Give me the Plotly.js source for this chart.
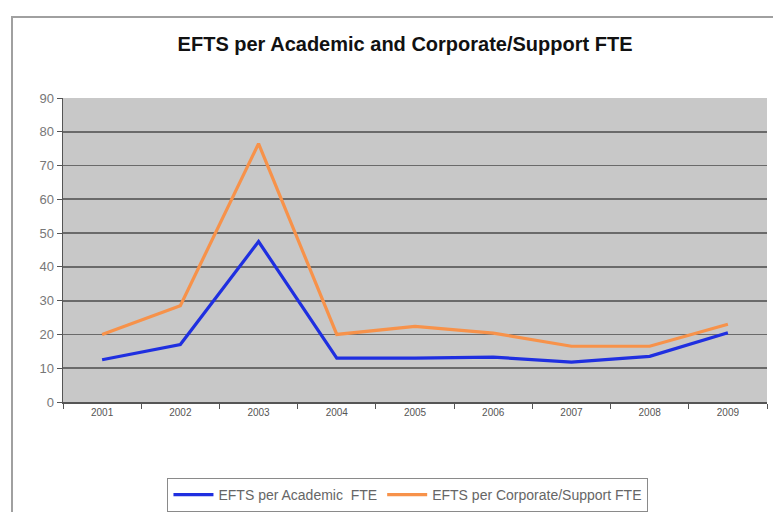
<!DOCTYPE html>
<html>
<head>
<meta charset="utf-8">
<script src="https://cdn.plot.ly/plotly-3.0.1.min.js"></script>
<style>
html,body{margin:0;padding:0;background:#fff;overflow:hidden;}
#wrap{position:relative;width:773px;height:512px;}
#chart{position:absolute;left:0;top:0;width:773px;height:512px;}
#frame{position:absolute;left:11px;top:16px;width:800px;height:520px;border:2px solid #a0a0a0;pointer-events:none;box-sizing:border-box;}
</style>
</head>
<body>
<div id="wrap"><div id="chart"></div><div id="frame"></div></div>
<script>
const years = ['2001','2002','2003','2004','2005','2006','2007','2008','2009'];
const academicFTE = [12.5, 17, 47.5, 13, 13, 13.3, 11.8, 13.5, 20.5];
const corporateFTE = [20, 28.5, 76.5, 20, 22.4, 20.4, 16.5, 16.5, 23];
const yTicks = [0,10,20,30,40,50,60,70,80,90];
const seriesNames = ['EFTS per Academic  FTE', 'EFTS per Corporate/Support FTE'];

const traces = [
  {x: years, y: academicFTE, name: seriesNames[0], type: 'scatter', mode: 'lines',
   line: {color: '#1f2fe0', width: 3.2}},
  {x: years, y: corporateFTE, name: seriesNames[1], type: 'scatter', mode: 'lines',
   line: {color: '#f7924a', width: 3.2}}
];

const layout = {
  width: 773, height: 512,
  margin: {l: 63, r: 6, t: 98, b: 110, autoexpand: false},
  paper_bgcolor: '#ffffff',
  plot_bgcolor: '#c8c8c8',
  font: {family: 'Liberation Sans, Arial, sans-serif', color: '#555'},
  title: {text: 'EFTS per Academic and Corporate/Support FTE',
          font: {family: 'Liberation Sans, Arial, sans-serif', size: 20, color: '#111', weight: 'bold'},
          xref: 'container', x: 0.524, xanchor: 'center', y: 0.915, yanchor: 'middle'},
  xaxis: {type: 'category', tickson: 'boundaries', ticks: 'outside', ticklen: 5, tickcolor: '#555',
          showline: true, linecolor: '#555', linewidth: 1.5, showgrid: false,
          tickfont: {size: 10, color: '#555'}, range: [-0.5, 8.5], fixedrange: true},
  yaxis: {range: [0, 90], tickvals: yTicks, ticks: 'outside', ticklen: 5, tickcolor: '#555',
          showline: true, linecolor: '#555', linewidth: 1.5,
          showgrid: true, gridcolor: '#6a6a6a', gridwidth: 1.8, zeroline: false,
          tickfont: {size: 13, color: '#777'}},
  showlegend: true,
  legend: {orientation: 'h', x: 0.49, xanchor: 'center', y: -0.25, yanchor: 'top',
           bordercolor: '#8a8a8a', borderwidth: 1, bgcolor: '#fff',
           font: {size: 14, color: '#666'}, itemwidth: 40}
};

Plotly.newPlot('chart', traces, layout, {displayModeBar: false, staticPlot: true});
</script>
</body>
</html>
